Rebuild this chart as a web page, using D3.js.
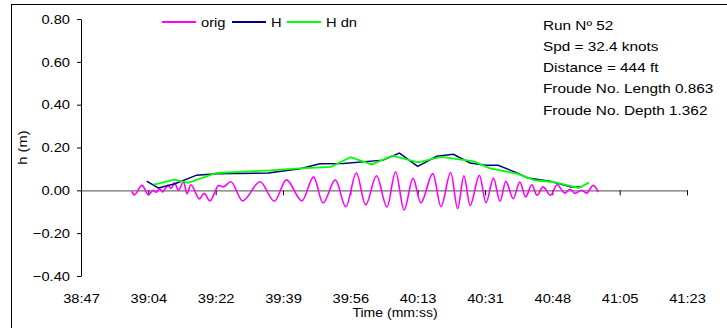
<!DOCTYPE html>
<html><head><meta charset="utf-8">
<script src="https://cdn.jsdelivr.net/npm/d3@7"></script>
<style>
body{margin:0;background:#fff}
svg{display:block}
text{font-family:"Liberation Sans",Arial,sans-serif;fill:#000}
</style>
</head><body>
<svg id="c" width="727" height="328"></svg>
<script>
// ---------- data ----------
const xTickLabels = ["38:47","39:04","39:22","39:39","39:56","40:13","40:31","40:48","41:05","41:23"];
const xMinSec = 2327.2, xMaxSec = 2483.25;           // time axis range (seconds)
const yTicks = [-0.4,-0.2,0,0.2,0.4,0.6,0.8];
const seriesNames = ["orig","H","H dn"];
const seriesColors = ["#FF00FF","#000080","#00FF00"];

const origTime = [2340.3,2340.9,2342.9,2344.6,2345.7,2346.6,2347.5,2348.2,2349.6,2350.4,2351.3,2352.3,2353.6,2354.5,2355.5,2357.7,2358.9,2360.4,2362.7,2363.8,2365.8,2368.8,2373.3,2377.0,2380.1,2384.1,2387.1,2389.5,2392.7,2395.4,2398.1,2400.5,2403.3,2406.0,2408.2,2410.4,2412.7,2414.7,2417.8,2419.9,2422.4,2424.2,2425.8,2427.4,2429.8,2431.5,2433.4,2435.1,2436.6,2438.5,2440.2,2441.7,2443.3,2444.6,2446.2,2448.1,2449.8,2451.8,2453.1,2454.4,2456.1,2457.4,2459.1,2460.4];
const origH    = [-0.005,-0.021,0.023,-0.021,0.000,-0.009,0.007,-0.007,0.023,0.009,0.035,0.000,0.040,-0.016,0.026,-0.040,-0.014,-0.049,0.023,0.016,0.040,-0.049,0.040,-0.051,0.049,-0.049,0.063,-0.059,0.049,-0.077,0.081,-0.068,0.068,-0.078,0.087,-0.092,0.056,-0.058,0.078,-0.075,0.083,-0.085,0.068,-0.070,0.070,-0.058,0.057,-0.051,0.042,-0.039,0.039,-0.031,0.026,-0.023,0.016,-0.023,0.026,-0.013,0.005,-0.014,0.000,-0.013,0.023,-0.008];

const hTime = [2344.1,2347.1,2351.4,2357.0,2362.1,2375.4,2383.6,2388.7,2394.7,2405.0,2409.2,2413.9,2418.8,2423.1,2427.4,2431.5,2434.6,2439.0,2442.3,2448.0,2453.4,2456.1];
const hH    = [0.043,0.011,0.031,0.071,0.078,0.081,0.101,0.124,0.125,0.141,0.174,0.112,0.159,0.168,0.128,0.117,0.117,0.085,0.058,0.042,0.016,0.015];

const hdnTime = [2345.9,2351.3,2354.8,2362.1,2375.9,2383.6,2391.6,2396.6,2402.1,2407.4,2414.0,2419.9,2428.4,2432.5,2439.4,2444.1,2448.8,2455.3,2458.0];
const hdnH    = [0.027,0.050,0.035,0.081,0.093,0.103,0.110,0.155,0.121,0.162,0.131,0.156,0.135,0.103,0.078,0.047,0.039,0.011,0.036];

const annotations = ["Run N\u00BA 52","Spd = 32.4 knots","Distance = 444 ft","Froude No. Length 0.863","Froude No. Depth 1.362"];

// ---------- layout ----------
const SX = 1.13;           // horizontal text stretch
const FS = 13;
const plot = {left:81, right:687, top:19, bottom:276};

const svg = d3.select("#c");
svg.append("rect").attr("x",11.5).attr("y",4.5).attr("width",800).attr("height",400)
   .attr("fill","#fff").attr("stroke","#000").attr("stroke-width",1);

const x = d3.scaleLinear().domain([xMinSec,xMaxSec]).range([plot.left,plot.right]);
const y = d3.scaleLinear().domain([-0.4,0.8]).range([plot.bottom,plot.top]);
const xTickVals = xTickLabels.map((_,i)=> xMinSec + i*(xMaxSec-xMinSec)/(xTickLabels.length-1));

// y axis
const yAx = svg.append("g").attr("transform",`translate(${plot.left},0)`)
  .call(d3.axisLeft(y).tickValues(yTicks).tickSizeInner(4).tickSizeOuter(0).tickFormat(d3.format(".2f")));
yAx.selectAll("path,line").attr("stroke","#000");
yAx.selectAll("text").attr("font-size",FS).attr("font-family",null)
   .attr("x",-11/SX).attr("transform",`scale(${SX},1)`);

// x axis line at zero with ticks
const xAx = svg.append("g").attr("transform",`translate(0,${y(0)})`)
  .call(d3.axisBottom(x).tickValues(xTickVals).tickSizeInner(5).tickSizeOuter(0).tickFormat(""));
xAx.select(".domain").attr("stroke","#707070").attr("stroke-width",1.3);
xAx.selectAll("line").attr("stroke","#000");

// x tick labels at the bottom
const xLab = svg.append("g").attr("transform",`translate(0,${plot.bottom})`)
  .call(d3.axisBottom(x).tickValues(xTickVals).tickSize(0).tickPadding(17.5).tickFormat((d,i)=>xTickLabels[i]));
xLab.select(".domain").remove();
xLab.selectAll("text").attr("font-size",FS).attr("font-family",null).attr("transform",`scale(${SX},1)`);

function stretchedText(px,py,str,anchor,sx){
  const g = svg.append("g").attr("transform",`translate(${px},${py}) scale(${sx||SX},1)`);
  return g.append("text").attr("font-size",FS).attr("text-anchor",anchor||"start").text(str);
}
stretchedText(395,316.5,"Time (mm:ss)","middle",1.08);
svg.append("text").attr("font-size",FS)
   .attr("transform",`translate(27,${(plot.top+plot.bottom)/2}) rotate(-90) scale(${SX},1)`)
   .attr("text-anchor","middle").text("h (m)");

// series
const lineGen = (curve)=> d3.line().x(d=>x(d[0])).y(d=>y(d[1])).curve(curve);
const origPts = origTime.map((t,i)=>[t,origH[i]]);
const hPts = hTime.map((t,i)=>[t,hH[i]]);
const hdnPts = hdnTime.map((t,i)=>[t,hdnH[i]]);

svg.append("path").attr("d",lineGen(d3.curveMonotoneX)(origPts))
   .attr("fill","none").attr("stroke",seriesColors[0]).attr("stroke-width",1.6);
svg.append("path").attr("d",lineGen(d3.curveLinear)(hPts))
   .attr("fill","none").attr("stroke",seriesColors[1]).attr("stroke-width",1.5);
svg.append("path").attr("d",lineGen(d3.curveLinear)(hdnPts))
   .attr("fill","none").attr("stroke",seriesColors[2]).attr("stroke-width",1.8);

// legend
const legendStarts = [162,232,287];
seriesNames.forEach((n,i)=>{
  svg.append("line").attr("x1",legendStarts[i]).attr("x2",legendStarts[i]+34)
     .attr("y1",22).attr("y2",22).attr("stroke",seriesColors[i]).attr("stroke-width",1.8);
  stretchedText(legendStarts[i]+39,26.7,n);
});

// annotations
annotations.forEach((a,i)=> stretchedText(543, 29.7 + i*21.2, a, "start", 1.18));
</script>
</body></html>
